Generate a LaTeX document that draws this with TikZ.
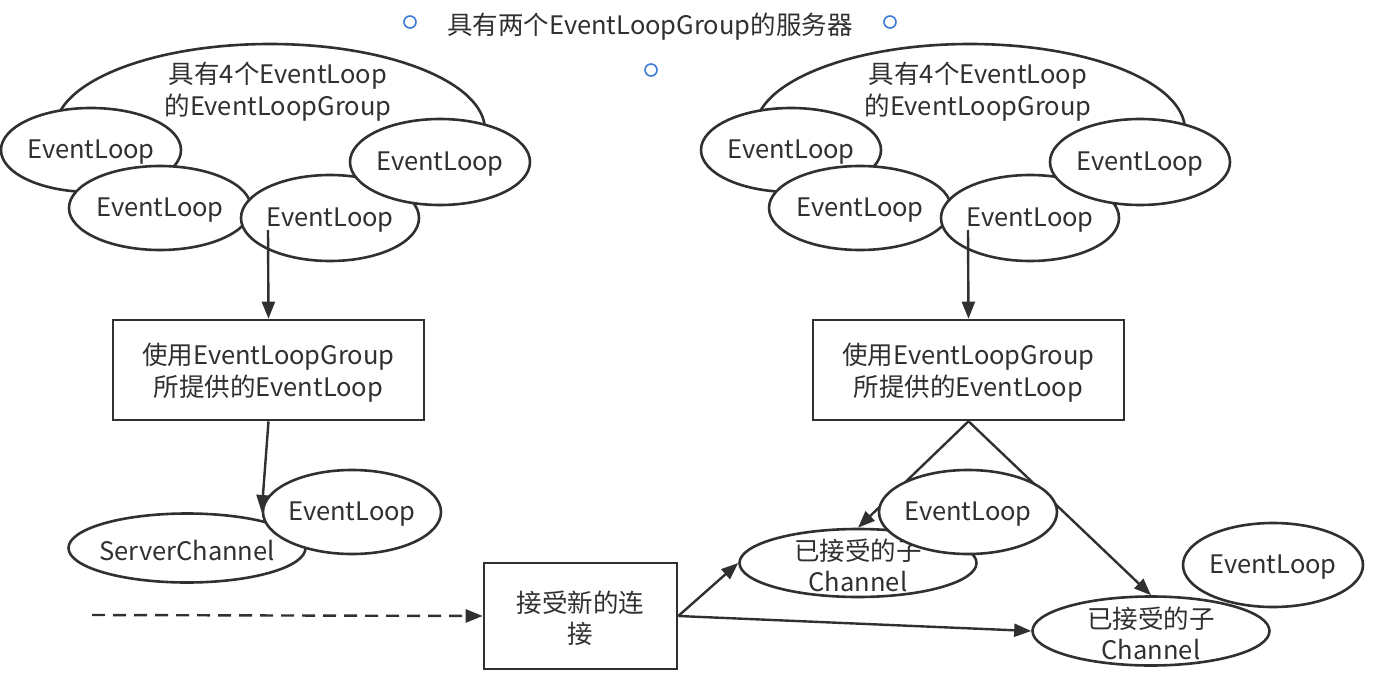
\documentclass[tikz,border=0pt]{standalone}
\usepackage{fontspec}
\setmainfont{Noto Sans CJK SC}
\usetikzlibrary{shapes.geometric,arrows.meta,calc}
\definecolor{ink}{HTML}{303030}
\definecolor{dotblue}{HTML}{3D7BD9}
\tikzset{
  ell/.style={ellipse, draw=ink, line width=2.6pt, fill=white, inner sep=0pt},
  lbl/.style={text=ink, font=\fontsize{25.5}{31.5}\selectfont, align=center, inner sep=0pt, yshift=-2.5pt},
  boxnode/.style={rectangle, draw=ink, line width=2.6pt, fill=white, inner sep=0pt, text=ink, font=\fontsize{25.5}{31.5}\selectfont, align=center},
  arr/.style={draw=ink, line width=2.4pt, -{Triangle[length=17pt,width=13pt]}},
  dotc/.style={draw=dotblue, line width=1.6pt, fill=white},
}
\begin{document}
\begin{tikzpicture}[x=1pt,y=-1pt]
\useasboundingbox (0,0) rectangle (1374,690);
% title
\node[lbl] (title) at (650,24) {具有两个EventLoopGroup的服务器};
\node[dotc, circle, minimum size=12pt, inner sep=0pt] (d1) at (410,22) {};
\node[dotc, circle, minimum size=12pt, inner sep=0pt] (d2) at (890,22) {};
\node[dotc, circle, minimum size=12pt, inner sep=0pt] (d3) at (651,70) {};

% ===== left group =====
\node[ell, minimum width=430pt, minimum height=172pt] (gL) at (270,130) {};
\node[lbl] (gLt) at (278,89) {具有4个EventLoop\\的EventLoopGroup};
\node[ell, minimum width=180pt, minimum height=84pt, label={[lbl]center:EventLoop}] (L1) at (91,150) {};
\node[ell, minimum width=182pt, minimum height=84pt, label={[lbl]center:EventLoop}] (L2) at (160,208) {};
\node[ell, minimum width=178pt, minimum height=86pt, label={[lbl]center:EventLoop}] (L4) at (330,218) {};
\node[ell, minimum width=180pt, minimum height=86pt, label={[lbl]center:EventLoop}] (L3) at (440,162) {};
\coordinate (L4in) at (268,230);
\node[boxnode, minimum width=311pt, minimum height=100pt] (B1) at (268.5,370) {};
\node[lbl] (B1t) at (B1.center) {使用EventLoopGroup\\所提供的EventLoop};
\draw[arr] (L4in) -- (B1.north);

\node[ell, minimum width=237pt, minimum height=69pt, label={[lbl]center:ServerChannel}] (SC) at (187,548) {};
\node[ell, minimum width=178pt, minimum height=84pt, label={[lbl]center:EventLoop}] (L5) at (352,512) {};
\draw[arr] (B1.south) -- (L5.west);

% dashed arrow and accept box
\coordinate (dstart) at (92,615);
\node[boxnode, minimum width=193pt, minimum height=106pt] (B2) at (580.5,616) {};
\node[lbl] (B2t) at (B2.center) {接受新的连\\接};
\draw[arr, dashed, dash pattern=on 13pt off 8pt] (dstart) -- (B2.west);

% ===== right group =====
\node[ell, minimum width=430pt, minimum height=172pt] (gR) at (970,130) {};
\node[lbl] (gRt) at (978,89) {具有4个EventLoop\\的EventLoopGroup};
\node[ell, minimum width=180pt, minimum height=84pt, label={[lbl]center:EventLoop}] (R1) at (791,150) {};
\node[ell, minimum width=182pt, minimum height=84pt, label={[lbl]center:EventLoop}] (R2) at (860,208) {};
\node[ell, minimum width=178pt, minimum height=86pt, label={[lbl]center:EventLoop}] (R4) at (1030,218) {};
\node[ell, minimum width=180pt, minimum height=86pt, label={[lbl]center:EventLoop}] (R3) at (1140,162) {};
\coordinate (R4in) at (968,230);
\node[boxnode, minimum width=311pt, minimum height=100pt] (B3) at (968.5,370) {};
\node[lbl] (B3t) at (B3.center) {使用EventLoopGroup\\所提供的EventLoop};
\draw[arr] (R4in) -- (B3.north);

% child channels
\node[ell, minimum width=237pt, minimum height=68pt] (C1) at (858,563) {};
\node[ell, minimum width=237pt, minimum height=69pt] (C2) at (1151,631) {};
\draw[arr] (B3.south) -- (C1.north);
\draw[arr] (B3.south) -- (C2.north);
\node[lbl] (C1t) at (858,563) {已接受的子\\Channel};
\node[lbl] (C2t) at (1151,631) {已接受的子\\Channel};
\node[ell, minimum width=178pt, minimum height=84pt, label={[lbl]center:EventLoop}] (R5) at (968,512) {};
\node[ell, minimum width=180pt, minimum height=84pt, label={[lbl]center:EventLoop}] (R6) at (1273,565) {};

\draw[arr] (B2.east) -- (C1.west);
\draw[arr] (B2.east) -- (C2.west);
\end{tikzpicture}
\end{document}
